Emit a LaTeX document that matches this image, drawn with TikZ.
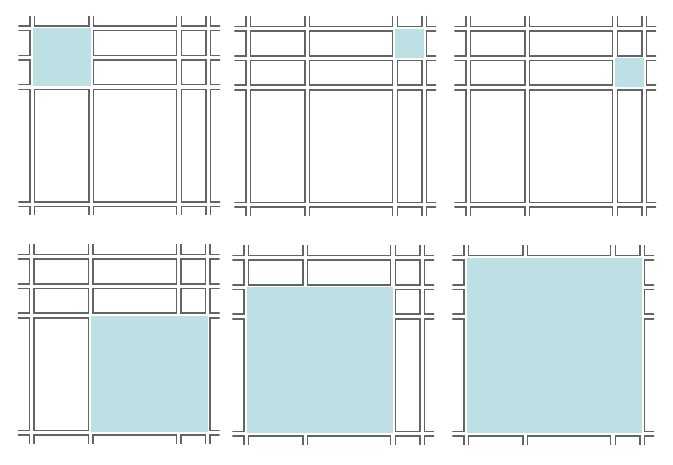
\documentclass[tikz,border=0pt]{standalone}
\usepackage{tikz}
\usepackage{xcolor}

\definecolor{picked}{RGB}{188,224,227}
\definecolor{kerb}{RGB}{100,100,100}

% one panel of city blocks, local coordinates
\newcommand{\cityblocks}{%
  \foreach \xa/\xb in {-30/0, 4.5/59, 63.3/146.7, 151.3/176, 180.5/210}
    \foreach \ya/\yb in {-30/0, 4.5/29.5, 34/58.5, 63.5/176, 180.5/210}
      \draw[block] (\xa,\ya) rectangle (\xb,\yb);%
}

\begin{document}
\begin{tikzpicture}[
    x=1pt, y=-1pt,
    block/.style={draw=kerb, line width=1.4pt},
    area/.style={fill=picked}
]
\useasboundingbox (0,0) rectangle (673,465);

% Panels: offset, then selected area
\foreach \px/\py/\ax/\ay/\bx/\by in {
    30/26/2.5/2.5/61/60.5,
    246/26.5/149.3/2.5/178/31.5,
    466/26.5/149.3/32/178/60.5,
    29.5/254.5/61.3/61.5/178/178,
    244/255.5/2.5/32/148.7/178,
    464/255.5/2.5/2.5/178/178}
{
  \begin{scope}[shift={(\px,\py)}]
    \clip (-11.7,-9.5) rectangle (190,189);
    \cityblocks
    \fill[area] (\ax,\ay) rectangle (\bx,\by);
  \end{scope}
}

\end{tikzpicture}
\end{document}
